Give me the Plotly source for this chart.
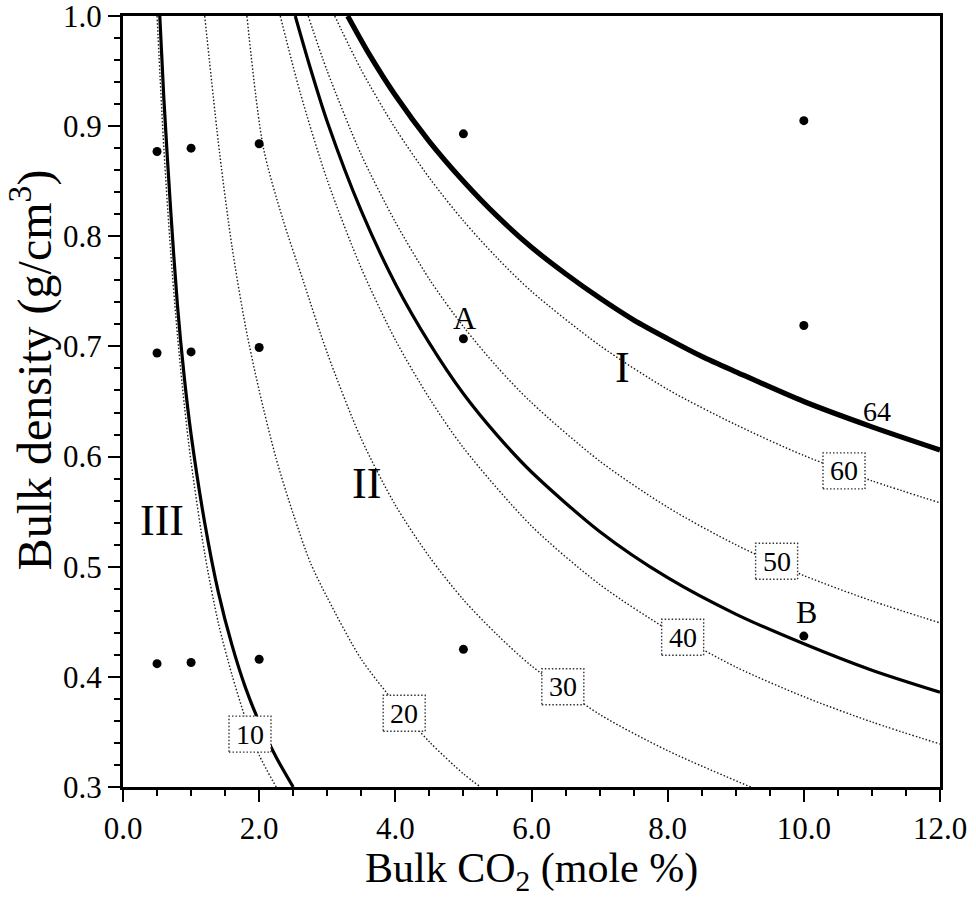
import plotly.graph_objects as go

# ---------------- data ----------------
# experimental samples (bulk CO2 mole %, bulk density g/cm3)
sample_co2 = [0.5, 1.0, 2.0, 5.0, 10.0,
              0.5, 1.0, 2.0, 5.0, 10.0,
              0.5, 1.0, 2.0, 5.0, 10.0]
sample_density = [0.877, 0.880, 0.884, 0.893, 0.905,
                  0.694, 0.695, 0.699, 0.707, 0.719,
                  0.412, 0.413, 0.416, 0.425, 0.437]

# dotted iso-lines (labelled 10 ... 60)
c10_x = [0.50, 0.60, 0.70, 0.80, 0.90, 1.00, 1.20, 1.40, 1.60, 1.80, 2.00, 2.25]
c10_y = [1.00, 0.880, 0.786, 0.710, 0.647, 0.595, 0.512, 0.449, 0.402, 0.362, 0.329, 0.300]
c20_x = [1.20, 1.42, 1.60, 1.80, 2.00, 2.25, 2.50, 2.75, 3.00, 3.50, 4.00, 4.50, 5.00, 5.25]
c20_y = [1.00, 0.875, 0.791, 0.718, 0.660, 0.598, 0.548, 0.504, 0.472, 0.416, 0.376, 0.341, 0.312, 0.300]
c30_x = [1.82, 2.06, 2.35, 2.65, 3.00, 3.50, 4.00, 4.50, 5.00, 5.50, 6.00, 7.00, 8.00, 9.22]
c30_y = [1.00, 0.881, 0.815, 0.759, 0.694, 0.616, 0.556, 0.509, 0.470, 0.438, 0.410, 0.366, 0.333, 0.300]
c40_x = [2.31, 2.60, 3.00, 3.50, 4.00, 4.50, 5.00, 6.00, 7.00, 8.00, 9.00, 10.0, 11.0, 12.0]
c40_y = [1.00, 0.931, 0.851, 0.771, 0.706, 0.653, 0.608, 0.537, 0.484, 0.443, 0.409, 0.382, 0.359, 0.339]
c50_x = [2.72, 3.00, 3.50, 4.00, 4.50, 5.00, 5.50, 6.00, 7.00, 8.00, 9.00, 10.0, 11.0, 12.0]
c50_y = [1.00, 0.950, 0.874, 0.813, 0.761, 0.718, 0.681, 0.649, 0.596, 0.554, 0.520, 0.492, 0.469, 0.449]
c60_x = [3.11, 3.50, 4.00, 4.50, 5.00, 5.50, 6.00, 7.00, 8.00, 9.00, 10.0, 11.0, 12.0]
c60_y = [1.00, 0.951, 0.898, 0.853, 0.814, 0.780, 0.750, 0.701, 0.661, 0.629, 0.601, 0.578, 0.558]

# solid boundary curves
b3_x = [0.54, 0.60, 0.70, 0.80, 0.90, 1.00, 1.20, 1.40, 1.60, 1.80, 2.00, 2.25, 2.50]
b3_y = [1.00, 0.925, 0.824, 0.737, 0.672, 0.620, 0.540, 0.477, 0.429, 0.390, 0.359, 0.327, 0.300]
b2_x = [2.53, 2.75, 3.00, 3.50, 4.00, 4.50, 5.00, 5.50, 6.00, 7.00, 8.00, 9.00, 10.0, 11.0, 12.0]
b2_y = [1.00, 0.953, 0.904, 0.823, 0.757, 0.703, 0.657, 0.619, 0.586, 0.532, 0.490, 0.457, 0.430, 0.406, 0.386]
b64_x = [3.30, 3.60, 4.00, 4.50, 5.00, 5.50, 6.00, 6.50, 7.00, 7.50, 8.00, 8.50, 9.00, 10.0, 11.0, 12.0]
b64_y = [1.00, 0.967, 0.928, 0.886, 0.850, 0.818, 0.790, 0.766, 0.744, 0.724, 0.707, 0.691, 0.677, 0.650, 0.627, 0.606]

# boxed iso-line labels
box_labels = ["10", "20", "30", "40", "50", "60"]
box_x = [1.865, 4.13, 6.46, 8.22, 9.60, 10.59]
box_y = [0.348, 0.367, 0.391, 0.436, 0.505, 0.587]

# plain text labels
text_labels = ["64", "A", "B", "I", "II", "III"]
text_x = [11.07, 5.02, 10.04, 7.34, 3.58, 0.57]
text_y = [0.641, 0.726, 0.459, 0.681, 0.576, 0.542]
text_size = [28, 32, 32, 44, 44, 44]

# axes
x_range = [0, 12]
y_range = [0.3, 1.0]
x_ticks = [0, 2, 4, 6, 8, 10, 12]
x_ticktext = ["0.0", "2.0", "4.0", "6.0", "8.0", "10.0", "12.0"]
y_ticks = [0.3, 0.4, 0.5, 0.6, 0.7, 0.8, 0.9, 1.0]
y_ticktext = ["0.3", "0.4", "0.5", "0.6", "0.7", "0.8", "0.9", "1.0"]

SERIF = "Liberation Serif"

fig = go.Figure()

dotted = [(c10_x, c10_y), (c20_x, c20_y), (c30_x, c30_y),
          (c40_x, c40_y), (c50_x, c50_y), (c60_x, c60_y)]
for xs, ys in dotted:
    fig.add_trace(go.Scatter(x=xs, y=ys, mode="lines",
                             line=dict(color="#1a1a1a", width=1.4, dash="1.5px,2px",
                                       shape="spline", smoothing=0.8),
                             hoverinfo="skip", showlegend=False))

for xs, ys, w in [(b3_x, b3_y, 3.2), (b2_x, b2_y, 3.2), (b64_x, b64_y, 5.2)]:
    fig.add_trace(go.Scatter(x=xs, y=ys, mode="lines",
                             line=dict(color="black", width=w,
                                       shape="spline", smoothing=0.8),
                             hoverinfo="skip", showlegend=False))

fig.add_trace(go.Scatter(x=sample_co2, y=sample_density, mode="markers",
                         marker=dict(color="black", size=9),
                         showlegend=False))

shapes = []
annotations = []
for lab, bx, by in zip(box_labels, box_x, box_y):
    shapes.append(dict(type="rect", xref="x", yref="y",
                       xsizemode="pixel", ysizemode="pixel",
                       xanchor=bx, yanchor=by,
                       x0=-21, x1=21, y0=-18, y1=18,
                       line=dict(color="#333333", width=1.4, dash="1.5px,2px"),
                       fillcolor="white", layer="above"))
    annotations.append(dict(x=bx, y=by, xref="x", yref="y", text=lab,
                            showarrow=False,
                            font=dict(family=SERIF, size=28, color="black"),
                            xanchor="center", yanchor="middle"))

for lab, tx, ty, ts in zip(text_labels, text_x, text_y, text_size):
    annotations.append(dict(x=tx, y=ty, xref="x", yref="y", text=lab,
                            showarrow=False,
                            font=dict(family=SERIF, size=ts, color="black"),
                            xanchor="center", yanchor="middle"))

# axis titles
annotations.append(dict(x=0.5, y=-0.109, xref="paper", yref="paper",
                        text="Bulk CO<sub>2</sub> (mole %)", showarrow=False,
                        font=dict(family=SERIF, size=42, color="black"),
                        xanchor="center", yanchor="middle"))
annotations.append(dict(x=-0.112, y=0.541, xref="paper", yref="paper",
                        text="Bulk density (g/cm<sup>3</sup>)", showarrow=False,
                        textangle=-90,
                        font=dict(family=SERIF, size=48, color="black"),
                        xanchor="center", yanchor="middle"))

axis_common = dict(showline=True, linecolor="black", linewidth=3, mirror=True,
                   ticks="outside", ticklen=12, tickwidth=2, tickcolor="black",
                   showgrid=False, zeroline=False, automargin=False,
                   tickfont=dict(family=SERIF, size=31, color="black"),
                   tickmode="array", ticklabeloverflow="allow")

fig.update_layout(
    width=976, height=898,
    margin=dict(l=123, r=36, t=16, b=111, autoexpand=False),
    paper_bgcolor="white", plot_bgcolor="white",
    xaxis=dict(range=x_range, tickvals=x_ticks, ticktext=x_ticktext,
               minor=dict(ticks="outside", ticklen=6, tickwidth=1.5,
                          tickcolor="black", dtick=0.5, tick0=0),
               **axis_common),
    yaxis=dict(range=y_range, tickvals=y_ticks, ticktext=y_ticktext,
               minor=dict(ticks="outside", ticklen=6, tickwidth=1.5,
                          tickcolor="black", dtick=0.02, tick0=0.3),
               **axis_common),
    shapes=shapes,
    annotations=annotations,
)

fig.write_html("out.html")
